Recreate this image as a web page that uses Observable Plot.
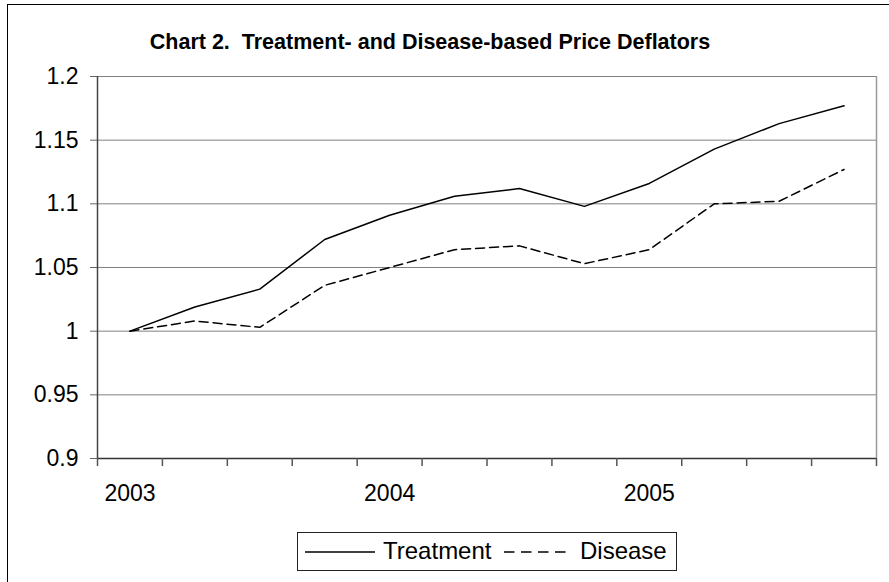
<!DOCTYPE html>
<html>
<head>
<meta charset="utf-8">
<script src="https://cdn.jsdelivr.net/npm/d3@7"></script>
<script src="https://cdn.jsdelivr.net/npm/@observablehq/plot@0.6"></script>
<style>
  html, body { margin: 0; padding: 0; background: #fff; }
  body { width: 889px; height: 582px; overflow: hidden; font-family: "Liberation Sans", Arial, sans-serif; }
  #wrap { position: relative; width: 889px; height: 582px; }
  #frame { position: absolute; left: 7px; top: 4px; width: 900px; height: 600px; border-left: 1.5px solid #000; border-top: 1.5px solid #000; }
  #title { position: absolute; left: 0; width: 860px; top: 30px; line-height: 24px; text-align: center; font-weight: bold; font-size: 21.5px; color: #000; white-space: pre; }
  #legend { position: absolute; left: 297px; top: 532px; width: 380px; height: 39px; border: 1px solid #222; box-sizing: border-box; font-size: 24px; color: #000; }
  #legend svg { position: absolute; top: 14px; }
  #legend span { position: absolute; top: 4px; line-height: 28px; }
  #chart { position: absolute; left: 0; top: 0; }
</style>
</head>
<body>
<div id="wrap">
  <div id="frame"></div>
  <div id="chart"></div>
  <div id="title"></div>
  <div id="legend"></div>
</div>
<script>
// Quarters 2003Q1 .. 2005Q4
const quarters = ["2003 Q1","2003 Q2","2003 Q3","2003 Q4","2004 Q1","2004 Q2","2004 Q3","2004 Q4","2005 Q1","2005 Q2","2005 Q3","2005 Q4"];
const treatment = [1.000, 1.019, 1.033, 1.072, 1.091, 1.106, 1.112, 1.098, 1.116, 1.143, 1.163, 1.177];
const disease   = [1.000, 1.008, 1.003, 1.036, 1.050, 1.064, 1.067, 1.053, 1.064, 1.100, 1.102, 1.127];
const yearLabels = ["2003", "2004", "2005"];
const yTicks = [0.9, 0.95, 1, 1.05, 1.1, 1.15, 1.2];
const seriesNames = ["Treatment", "Disease"];
const titleText = "Chart 2.  Treatment- and Disease-based Price Deflators";

const rows = [];
quarters.forEach((q, i) => {
  rows.push({q, i, series: seriesNames[0], value: treatment[i]});
  rows.push({q, i, series: seriesNames[1], value: disease[i]});
});
const yearIdx = yearLabels.map(y => quarters.indexOf(y + " Q1"));
const bounds = d3.range(quarters.length + 1).map(k => k - 0.5);

const chart = Plot.plot({
  width: 889,
  height: 582,
  marginLeft: 97,
  marginRight: 13,
  marginTop: 76,
  marginBottom: 124,
  style: {fontFamily: '"Liberation Sans", Arial, sans-serif', fontSize: "23px", color: "#000", background: "transparent"},
  x: {type: "linear", domain: [-0.5, quarters.length - 0.5]},
  y: {type: "linear", domain: [0.9, 1.2]},
  marks: [
    Plot.gridY(yTicks, {stroke: "#808080", strokeOpacity: 1, strokeWidth: 1}),
    Plot.ruleX([quarters.length - 0.5], {stroke: "#999", strokeWidth: 1.5}),
    Plot.axisY(yTicks, {tickSize: 7, tickPadding: 12, stroke: "#666", tickFormat: d => String(d), label: null, fill: "#000"}),
    Plot.ruleY([0.9], {stroke: "#333", strokeWidth: 1.5}),
    Plot.ruleX([-0.5], {stroke: "#444", strokeWidth: 1.5}),
    Plot.axisX(bounds, {tickSize: 8, stroke: "#555", strokeWidth: 1.5, tickFormat: () => "", label: null}),
    Plot.axisX(yearIdx, {tickSize: 0, tickPadding: 26, tickFormat: (d) => yearLabels[yearIdx.indexOf(d)], label: null, fill: "#000"}),
    Plot.line(rows.filter(d => d.series === "Treatment"), {x: "i", y: "value", stroke: "#000", strokeWidth: 1.5}),
    Plot.line(rows.filter(d => d.series === "Disease"), {x: "i", y: "value", stroke: "#000", strokeWidth: 1.5, strokeDasharray: "9,5"})
  ]
});
document.getElementById("chart").appendChild(chart);
document.getElementById("title").textContent = titleText;

const leg = document.getElementById("legend");
const dashes = ["", "10.5,6.5"];
const sampleX = [6, 205];
const sampleW = [70, 62];
const textX = [85, 282];
seriesNames.forEach((name, k) => {
  const s = d3.create("svg").attr("width", sampleW[k] + 2).attr("height", 10).style("left", sampleX[k] + "px");
  s.append("line").attr("x1", 1).attr("x2", sampleW[k] + 1).attr("y1", 5).attr("y2", 5).attr("stroke", "#000").attr("stroke-width", 1.5).attr("stroke-dasharray", dashes[k] || null);
  leg.appendChild(s.node());
  const t = document.createElement("span");
  t.textContent = name;
  t.style.left = textX[k] + "px";
  leg.appendChild(t);
});
</script>
</body>
</html>
